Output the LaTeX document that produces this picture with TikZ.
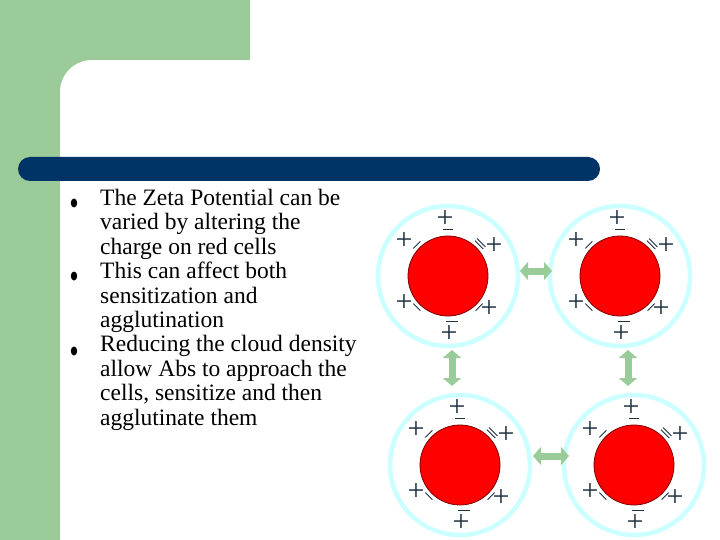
\documentclass[tikz,border=0pt]{standalone}
\usepackage{fontspec}
\usetikzlibrary{arrows.meta}
\setmainfont{Liberation Serif}
\definecolor{gr}{HTML}{9BCB99}
\definecolor{bar}{HTML}{003366}
\definecolor{cy}{HTML}{CCFFFF}
\definecolor{ag}{HTML}{99CC99}
\definecolor{ink}{HTML}{1F3040}
\tikzset{
 pl/.style={font=\fontsize{30}{30}\selectfont,text=ink,inner sep=0},
 mn/.style={draw=ink,line width=0.8pt},
 dbl/.style={draw=ag,line width=7pt,{Triangle[width=18pt,length=8pt]}-{Triangle[width=18pt,length=8pt]}},
 pics/cell/.style={code={
  \fill[white] (0,0) circle (70);
  \draw[cy,line width=4.5pt] (0,0) circle (70);
  \node[circle,fill=red,draw=red!50!black,line width=0.8pt,minimum size=80pt,inner sep=0] (-c) at (0,0) {};
  \draw[mn] (-5,-47) -- (5,-47);
  \draw[mn] (-2,45) -- (10,45);
  \draw[mn] (-135:44) ++(-45:5) -- ++(135:10);
  \draw[mn] (-45:44) ++(-135:6) -- ++(45:12);
  \draw[mn] (-45:47) ++(-135:6) -- ++(45:12);
  \draw[mn] (135:44) ++(45:5) -- ++(-135:10);
  \draw[mn] (45:44) ++(135:5) -- ++(-45:10);
  \node[pl] (-p1) at (-3,-57) {+};
  \node[pl] (-p2) at (-44,-35) {+};
  \node[pl] (-p3) at (46,-30) {+};
  \node[pl] (-p4) at (-44,27) {+};
  \node[pl] (-p5) at (41,33) {+};
  \node[pl] (-p6) at (1,58) {+};
 }}
}
\begin{document}
\begin{tikzpicture}[x=1pt,y=-1pt]
\useasboundingbox (0,0) rectangle (720,540);
\fill[white] (0,0) rectangle (720,540);
\fill[gr] (0,0) rectangle (60,540);
\fill[gr] (0,0) rectangle (250,60);
\fill[gr] (60,60) rectangle (92,92);
\fill[white] (92,92) circle (32);
\fill[white] (92,60) rectangle (250,92);
\fill[white] (60,92) rectangle (92,157);
\fill[bar,rounded corners=12pt] (18,157) rectangle (600,181);
\node[anchor=north west,align=left,inner sep=0,
 font=\fontsize{23.5}{24.4}\selectfont] (txt) at (100,189)
 {The Zeta Potential can be\\ varied by altering the\\ charge on red cells\\
  This can affect both\\ sensitization and\\ agglutination\\
  Reducing the cloud density\\ allow Abs to approach the\\ cells, sensitize and then\\ agglutinate them};
\foreach \y/\n in {203/a,276/b,351/c}{
  \fill[black] (74,\y) ellipse (3.2 and 4.5) coordinate (bul\n);}
\pic (A) at (448,276) {cell};
\pic (B) at (620,276) {cell};
\pic (C) at (460,465) {cell};
\pic (D) at (634,465) {cell};
\coordinate (h1a) at (520,271); \coordinate (h1b) at (552,271);
\coordinate (h2a) at (533,456); \coordinate (h2b) at (569,456);
\coordinate (v1a) at (452,350); \coordinate (v1b) at (452,386);
\coordinate (v2a) at (628,350); \coordinate (v2b) at (628,386);
\draw[dbl] (h1a) -- (h1b);
\draw[dbl] (h2a) -- (h2b);
\draw[dbl] (v1a) -- (v1b);
\draw[dbl] (v2a) -- (v2b);
\end{tikzpicture}
\end{document}
